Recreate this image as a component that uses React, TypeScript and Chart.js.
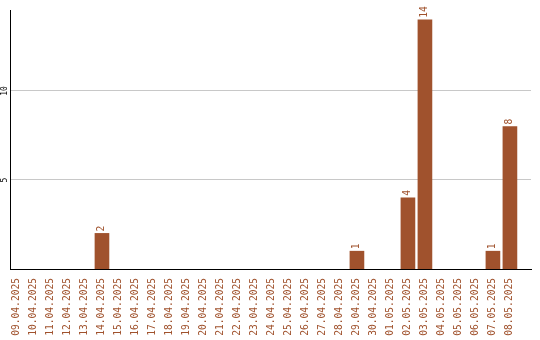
import React, { useEffect, useRef } from "react";
import { Chart, registerables } from "chart.js";

Chart.register(...registerables);

const dates = [
  "09.04.2025", "10.04.2025", "11.04.2025", "12.04.2025", "13.04.2025",
  "14.04.2025", "15.04.2025", "16.04.2025", "17.04.2025", "18.04.2025",
  "19.04.2025", "20.04.2025", "21.04.2025", "22.04.2025", "23.04.2025",
  "24.04.2025", "25.04.2025", "26.04.2025", "27.04.2025", "28.04.2025",
  "29.04.2025", "30.04.2025", "01.05.2025", "02.05.2025", "03.05.2025",
  "04.05.2025", "05.05.2025", "06.05.2025", "07.05.2025", "08.05.2025",
];
const counts = [
  0, 0, 0, 0, 0,
  2, 0, 0, 0, 0,
  0, 0, 0, 0, 0,
  0, 0, 0, 0, 0,
  1, 0, 0, 4, 14,
  0, 0, 0, 1, 8,
];
const yTicks = [5, 10];

const BAR = "#A0522D";
const FONT = "'DejaVu Sans Mono', monospace";

const valueLabels = {
  id: "valueLabels",
  afterDatasetsDraw(chart: any) {
    const ctx = chart.ctx;
    const meta = chart.getDatasetMeta(0);
    ctx.save();
    ctx.fillStyle = BAR;
    ctx.font = `9.6px ${FONT}`;
    ctx.textAlign = "left";
    ctx.textBaseline = "middle";
    meta.data.forEach((el: any, i: number) => {
      const v = counts[i];
      if (!v) return;
      ctx.save();
      ctx.translate(el.x, el.y - 2);
      ctx.rotate(-Math.PI / 2);
      ctx.fillText(String(v), 0, 0);
      ctx.restore();
    });
    ctx.restore();
  },
};

export default function App() {
  const ref = useRef<HTMLCanvasElement>(null);
  useEffect(() => {
    if (!ref.current) return;
    const chart = new Chart(ref.current, {
      type: "bar",
      data: {
        datasets: [
          {
            data: counts.map((v, i) => ({ x: i, y: v === 0 ? null : v })),
            backgroundColor: BAR,
            borderWidth: 0,
            barThickness: 14,
          },
        ],
      },
      plugins: [valueLabels],
      options: {
        responsive: false,
        animation: false,
        layout: { padding: { top: 10, right: 9, left: 0, bottom: 0 } },
        plugins: { legend: { display: false }, tooltip: { enabled: false } },
        scales: {
          x: {
            type: "linear",
            min: -0.41,
            max: 30.24,
            offset: false,
            afterBuildTicks: (s: any) => {
              s.ticks = dates.map((_, i) => ({ value: i }));
            },
            afterFit: (s: any) => {
              s.height = 71;
              s.paddingLeft = 0;
              s.paddingRight = 0;
            },
            grid: { display: false, drawTicks: false },
            border: { display: true, color: "#000", width: 1 },
            ticks: {
              autoSkip: false,
              minRotation: 90,
              maxRotation: 90,
              padding: 9,
              color: BAR,
              font: { family: FONT, size: 9.6 },
              callback: (v: any) => dates[v] ?? "",
            },
          },
          y: {
            min: 0,
            max: 14.55,
            afterBuildTicks: (s: any) => {
              s.ticks = yTicks.map((v) => ({ value: v }));
            },
            afterFit: (s: any) => {
              s.width = 10;
            },
            grid: { color: "#c8c8c8", drawTicks: false },
            border: { display: true, color: "#000", width: 1 },
            ticks: {
              minRotation: 90,
              maxRotation: 90,
              crossAlign: "center",
              padding: 0,
              color: "#000",
              font: { family: FONT, size: 8 },
            },
          },
        },
      },
    });
    return () => chart.destroy();
  }, []);
  return (
    <div style={{ position: "fixed", left: 0, top: 0, width: 540, height: 340, background: "#fff" }}>
      <canvas ref={ref} width={540} height={340} />
    </div>
  );
}
